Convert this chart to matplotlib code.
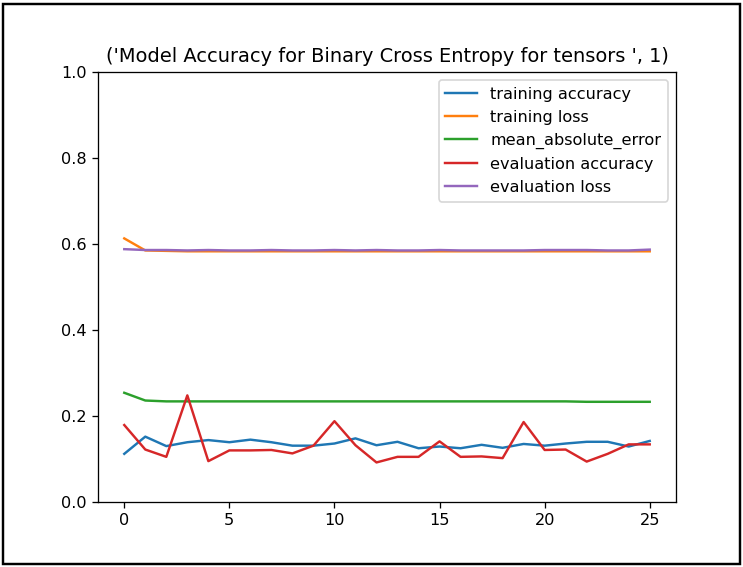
import matplotlib
matplotlib.use("Agg")
import matplotlib.pyplot as plt
from matplotlib.patches import Rectangle

epochs = list(range(26))

training_accuracy = [0.112, 0.152, 0.130, 0.139, 0.144, 0.139, 0.145, 0.139, 0.131, 0.131,
                     0.136, 0.148, 0.132, 0.140, 0.125, 0.129, 0.125, 0.133, 0.126, 0.135,
                     0.131, 0.136, 0.140, 0.140, 0.129, 0.142]
training_loss = [0.613, 0.585, 0.584, 0.583, 0.583, 0.583, 0.583, 0.583, 0.583, 0.583,
                 0.583, 0.583, 0.583, 0.583, 0.583, 0.583, 0.583, 0.583, 0.583, 0.583,
                 0.583, 0.583, 0.583, 0.583, 0.583, 0.583]
mean_absolute_error = [0.254, 0.236, 0.234, 0.234, 0.234, 0.234, 0.234, 0.234, 0.234, 0.234,
                       0.234, 0.234, 0.234, 0.234, 0.234, 0.234, 0.234, 0.234, 0.234, 0.234,
                       0.234, 0.234, 0.233, 0.233, 0.233, 0.233]
evaluation_accuracy = [0.179, 0.122, 0.105, 0.248, 0.095, 0.120, 0.120, 0.121, 0.113, 0.131,
                       0.188, 0.132, 0.092, 0.105, 0.105, 0.141, 0.105, 0.106, 0.102, 0.186,
                       0.121, 0.122, 0.094, 0.112, 0.134, 0.134]
evaluation_loss = [0.588, 0.586, 0.586, 0.585, 0.586, 0.585, 0.585, 0.586, 0.585, 0.585,
                   0.586, 0.585, 0.586, 0.585, 0.585, 0.586, 0.585, 0.585, 0.585, 0.585,
                   0.586, 0.586, 0.586, 0.585, 0.585, 0.587]

dpi = 116.5
fig = plt.figure(figsize=(743 / dpi, 567 / dpi), dpi=dpi)
ax = fig.add_axes([98 / 743, 1 - 502 / 567, 578 / 743, 430 / 567])

ax.plot(epochs, training_accuracy, label='training accuracy')
ax.plot(epochs, training_loss, label='training loss')
ax.plot(epochs, mean_absolute_error, label='mean_absolute_error')
ax.plot(epochs, evaluation_accuracy, label='evaluation accuracy')
ax.plot(epochs, evaluation_loss, label='evaluation loss')

ax.set_ylim(0, 1)
ax.set_title(str(('Model Accuracy for Binary Cross Entropy for tensors ', 1)))
ax.legend(loc='upper right')

# cadre noir autour de la figure (capture d'écran)
fig.patches.append(Rectangle((3 / 743, 3 / 567), 737 / 743, 560 / 567,
                             transform=fig.transFigure, fill=False,
                             edgecolor='black', linewidth=1.5))

fig.savefig('out.png', dpi=dpi)
